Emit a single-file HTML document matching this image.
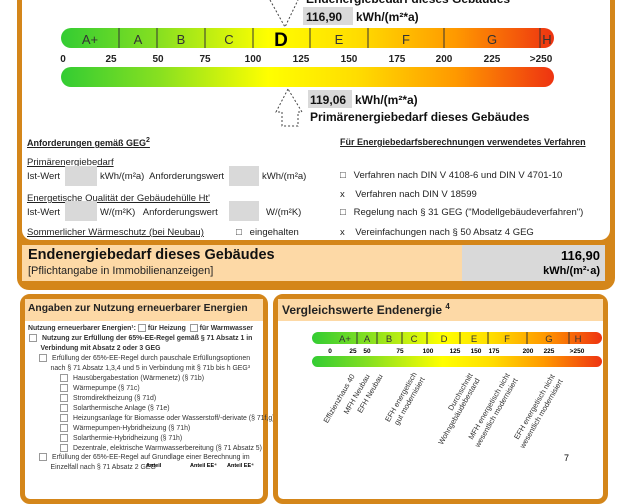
<!DOCTYPE html>
<html><head><meta charset="utf-8"><style>
body{margin:0;width:626px;height:470px;overflow:hidden;background:#fff;font-family:"Liberation Sans",Arial,sans-serif;position:relative}
.a{position:absolute;white-space:nowrap}
.sm{font-size:9.5px;color:#222}
.u{text-decoration:underline}
.gb{background:#d9d9d9}
.cb{display:inline-block;width:6px;height:6px;border:1px solid #999;margin-right:5px;vertical-align:middle}
.l{font-size:6.9px;color:#333}
</style></head><body>
<!-- top panel -->
<div class="a" style="left:17px;top:-20px;width:588px;height:300px;border:5px solid #d4861a;border-radius:12px;background:#d4861a"></div>
<div class="a" style="left:22px;top:-10px;width:588px;height:250px;background:#fff;border-radius:0 0 10px 10px"></div>
<div class="a" style="left:22px;top:245px;width:440px;height:36px;background:#fdd9a6"></div>
<div class="a gb" style="left:462px;top:245px;width:143px;height:36px"></div>
<div class="a" style="left:28px;top:247px;font-size:14.5px;font-weight:bold;color:#111">Endenergiebedarf dieses Gebäudes</div>
<div class="a" style="left:28px;top:265px;font-size:11px;color:#222">[Pflichtangabe in Immobilienanzeigen]</div>
<div class="a" style="left:462px;top:248px;width:138px;text-align:right;font-size:13px;font-weight:bold">116,90</div>
<div class="a" style="left:462px;top:265px;width:138px;text-align:right;font-size:11px;font-weight:bold">kWh/(m²·a)</div>

<!-- top scale -->
<svg class="a" style="left:0;top:0" width="626" height="130">
<defs><linearGradient id="g" x1="0" x2="1"><stop offset="0" stop-color="#33cc33"/><stop offset=".2" stop-color="#88e020"/><stop offset=".42" stop-color="#ffff00"/><stop offset=".6" stop-color="#ffdd00"/><stop offset=".8" stop-color="#ff9900"/><stop offset="1" stop-color="#ee3311"/></linearGradient></defs>
<rect x="61" y="28" width="493" height="20" rx="10" fill="url(#g)"/>
<rect x="61" y="67" width="493" height="20" rx="10" fill="url(#g)"/>
<g stroke="#333" stroke-width="1"><line x1="119" y1="28" x2="119" y2="48"/><line x1="157" y1="28" x2="157" y2="48"/><line x1="205" y1="28" x2="205" y2="48"/><line x1="253" y1="28" x2="253" y2="48"/><line x1="310" y1="28" x2="310" y2="48"/><line x1="368" y1="28" x2="368" y2="48"/><line x1="444" y1="28" x2="444" y2="48"/><line x1="540" y1="28" x2="540" y2="48"/></g>
<g font-size="13" text-anchor="middle" fill="#333"><text x="90" y="44">A+</text><text x="138" y="44">A</text><text x="181" y="44">B</text><text x="229" y="44">C</text><text x="339" y="44">E</text><text x="406" y="44">F</text><text x="492" y="44">G</text><text x="547" y="44">H</text></g>
<text x="281" y="46" font-size="19" font-weight="bold" text-anchor="middle">D</text>
<g font-size="10" font-weight="bold" text-anchor="middle" fill="#222"><text x="63" y="62">0</text><text x="111" y="62">25</text><text x="158" y="62">50</text><text x="205" y="62">75</text><text x="253" y="62">100</text><text x="301" y="62">125</text><text x="349" y="62">150</text><text x="397" y="62">175</text><text x="444" y="62">200</text><text x="492" y="62">225</text><text x="541" y="62">>250</text></g>
<g fill="none" stroke="#444" stroke-dasharray="2,2"><path d="M270 0 L285 27 L298 0"/><path d="M288 89 L276 112 L282 112 L282 126 L298 126 L298 112 L302 112 Z"/></g>
<rect x="303" y="7" width="50" height="18" fill="#d9d9d9"/><rect x="308" y="90" width="44" height="18" fill="#d9d9d9"/>
<g font-size="12" font-weight="bold" fill="#111"><text x="306" y="3">Endenergiebedarf dieses Gebäudes</text><text x="306" y="21">116,90</text><text x="356" y="21">kWh/(m²*a)</text><text x="310" y="104">119,06</text><text x="355" y="104">kWh/(m²*a)</text><text x="310" y="121">Primärenergiebedarf dieses Gebäudes</text></g>
</svg>

<!-- middle -->
<div class="a sm u" style="left:27px;top:137px;font-weight:bold;font-size:9px">Anforderungen gemäß GEG<sup style="font-size:7px">2</sup></div>
<div class="a sm u" style="left:340px;top:137px;font-weight:bold;font-size:9px">Für Energiebedarfsberechnungen verwendetes Verfahren</div>
<div class="a sm u" style="left:27px;top:157px">Primärenergiebedarf</div>
<div class="a sm" style="left:27px;top:171px">Ist-Wert</div><div class="a gb" style="left:65px;top:166px;width:32px;height:20px"></div>
<div class="a sm" style="left:100px;top:171px">kWh/(m²a)&nbsp; Anforderungswert</div><div class="a gb" style="left:229px;top:166px;width:30px;height:20px"></div>
<div class="a sm" style="left:262px;top:171px">kWh/(m²a)</div>
<div class="a sm u" style="left:27px;top:193px">Energetische Qualität der Gebäudehülle Ht'</div>
<div class="a sm" style="left:27px;top:207px">Ist-Wert</div><div class="a gb" style="left:65px;top:201px;width:32px;height:20px"></div>
<div class="a sm" style="left:100px;top:207px">W/(m²K)&nbsp;&nbsp; Anforderungswert</div><div class="a gb" style="left:229px;top:201px;width:30px;height:20px"></div>
<div class="a sm" style="left:266px;top:207px">W/(m²K)</div>
<div class="a sm u" style="left:27px;top:227px">Sommerlicher Wärmeschutz (bei Neubau)</div>
<div class="a sm" style="left:236px;top:227px">□&nbsp;&nbsp; eingehalten</div>
<div class="a sm" style="left:340px;top:170px">□&nbsp;&nbsp; Verfahren nach DIN V 4108-6 und DIN V 4701-10</div>
<div class="a sm" style="left:340px;top:189px">x&nbsp;&nbsp;&nbsp; Verfahren nach DIN V 18599</div>
<div class="a sm" style="left:340px;top:207px">□&nbsp;&nbsp; Regelung nach § 31 GEG ("Modellgebäudeverfahren")</div>
<div class="a sm" style="left:340px;top:227px">x&nbsp;&nbsp;&nbsp; Vereinfachungen nach § 50 Absatz 4 GEG</div>

<!-- bottom left -->
<div class="a" style="left:20px;top:294px;width:238px;height:200px;border:5px solid #d4861a;border-radius:10px"></div>
<div class="a" style="left:25px;top:299px;width:238px;height:22px;background:#fdd9a6"></div>
<div class="a" style="left:28px;top:303px;font-size:10.3px;font-weight:bold;color:#222">Angaben zur Nutzung erneuerbarer Energien</div>
<div class="a l" style="left:28px;top:324px;font-weight:bold">Nutzung erneuerbarer Energien¹: <span class="cb" style="margin-right:2px"></span>für Heizung &nbsp;<span class="cb" style="margin-right:2px"></span>für Warmwasser</div>
<div class="a l" style="left:29px;top:334px;font-weight:bold;line-height:9.5px"><span class="cb"></span>Nutzung zur Erfüllung der 65%-EE-Regel gemäß § 71 Absatz 1 in<br>&nbsp;&nbsp;&nbsp;&nbsp;&nbsp;&nbsp;Verbindung mit Absatz 2 oder 3 GEG</div>
<div class="a l" style="left:39px;top:354px;line-height:9.5px"><span class="cb"></span>Erfüllung der 65%-EE-Regel durch pauschale Erfüllungsoptionen<br>&nbsp;&nbsp;&nbsp;&nbsp;&nbsp;&nbsp;nach § 71 Absatz 1,3,4 und 5 in Verbindung mit § 71b bis h GEG³</div>
<div class="a l" style="left:60px;top:374px;line-height:10px"><span class="cb"></span>Hausübergabestation (Wärmenetz) (§ 71b)<br><span class="cb"></span>Wärmepumpe (§ 71c)<br><span class="cb"></span>Stromdirektheizung (§ 71d)<br><span class="cb"></span>Solarthermische Anlage (§ 71e)<br><span class="cb"></span>Heizungsanlage für Biomasse oder Wasserstoff/-derivate (§ 71f,g)<br><span class="cb"></span>Wärmepumpen-Hybridheizung (§ 71h)<br><span class="cb"></span>Solarthermie-Hybridheizung (§ 71h)<br><span class="cb"></span>Dezentrale, elektrische Warmwasserbereitung (§ 71 Absatz 5)</div>
<div class="a l" style="left:39px;top:453px;line-height:9.5px"><span class="cb"></span>Erfüllung der 65%-EE-Regel auf Grundlage einer Berechnung im<br>&nbsp;&nbsp;&nbsp;&nbsp;&nbsp;&nbsp;Einzelfall nach § 71 Absatz 2 GEG</div>
<div class="a" style="left:146px;top:463px;font-size:5.5px;font-weight:bold">Anteil</div>
<div class="a" style="left:190px;top:463px;font-size:5.5px;font-weight:bold">Anteil EE⁴</div>
<div class="a" style="left:227px;top:463px;font-size:5.5px;font-weight:bold">Anteil EE⁴</div>

<!-- bottom right -->
<div class="a" style="left:273px;top:294px;width:325px;height:200px;border:5px solid #d4861a;border-radius:10px"></div>
<div class="a" style="left:278px;top:299px;width:325px;height:22px;background:#fdd9a6"></div>
<div class="a" style="left:282px;top:302px;font-size:12px;font-weight:bold;color:#222">Vergleichswerte Endenergie <sup style="font-size:8px">4</sup></div>
<svg class="a" style="left:0;top:0" width="626" height="470">
<defs><linearGradient id="g2" x1="0" x2="1"><stop offset="0" stop-color="#33cc33"/><stop offset=".2" stop-color="#88e020"/><stop offset=".45" stop-color="#ffff00"/><stop offset=".62" stop-color="#ffdd00"/><stop offset=".8" stop-color="#ff9900"/><stop offset="1" stop-color="#ee3311"/></linearGradient></defs>
<rect x="312" y="332" width="290" height="12" rx="6" fill="url(#g2)"/>
<rect x="312" y="356" width="290" height="11" rx="5.5" fill="url(#g2)"/>
<g stroke="#333"><line x1="357" y1="332" x2="357" y2="344"/><line x1="377" y1="332" x2="377" y2="344"/><line x1="402" y1="332" x2="402" y2="344"/><line x1="427" y1="332" x2="427" y2="344"/><line x1="460" y1="332" x2="460" y2="344"/><line x1="488" y1="332" x2="488" y2="344"/><line x1="527" y1="332" x2="527" y2="344"/><line x1="569" y1="332" x2="569" y2="344"/></g>
<g font-size="9.5" text-anchor="middle" fill="#333"><text x="345" y="342">A+</text><text x="367" y="342">A</text><text x="389" y="342">B</text><text x="414" y="342">C</text><text x="444" y="342">D</text><text x="474" y="342">E</text><text x="507" y="342">F</text><text x="549" y="342">G</text><text x="578" y="342">H</text></g>
<g font-size="6.5" font-weight="bold" text-anchor="middle"><text x="330" y="353">0</text><text x="353" y="353">25</text><text x="367" y="353">50</text><text x="400" y="353">75</text><text x="428" y="353">100</text><text x="455" y="353">125</text><text x="476" y="353">150</text><text x="494" y="353">175</text><text x="528" y="353">200</text><text x="549" y="353">225</text><text x="577" y="353">>250</text></g>
<g font-size="7.5" fill="#333" text-anchor="end">
<text transform="translate(355,376) rotate(-60)">Effizienzhaus 40</text>
<text transform="translate(370,376) rotate(-60)">MFH Neubau</text>
<text transform="translate(383,376) rotate(-60)">EFH Neubau</text>
<text transform="translate(417,374) rotate(-60)">EFH energetisch</text><text transform="translate(425,379) rotate(-60)">gut modernisiert</text>
<text transform="translate(473,375) rotate(-60)">Durchschnitt</text><text transform="translate(480,380) rotate(-60)">Wohngebäudebestand</text>
<text transform="translate(510,375) rotate(-60)">MFH energetisch nicht</text><text transform="translate(518,380) rotate(-60)">wesentlich modernisiert</text>
<text transform="translate(555,376) rotate(-60)">EFH energetisch nicht</text><text transform="translate(563,381) rotate(-60)">wesentlich modernisiert</text>
</g>
<text x="564" y="461" font-size="9">7</text>
</svg>
</body></html>
